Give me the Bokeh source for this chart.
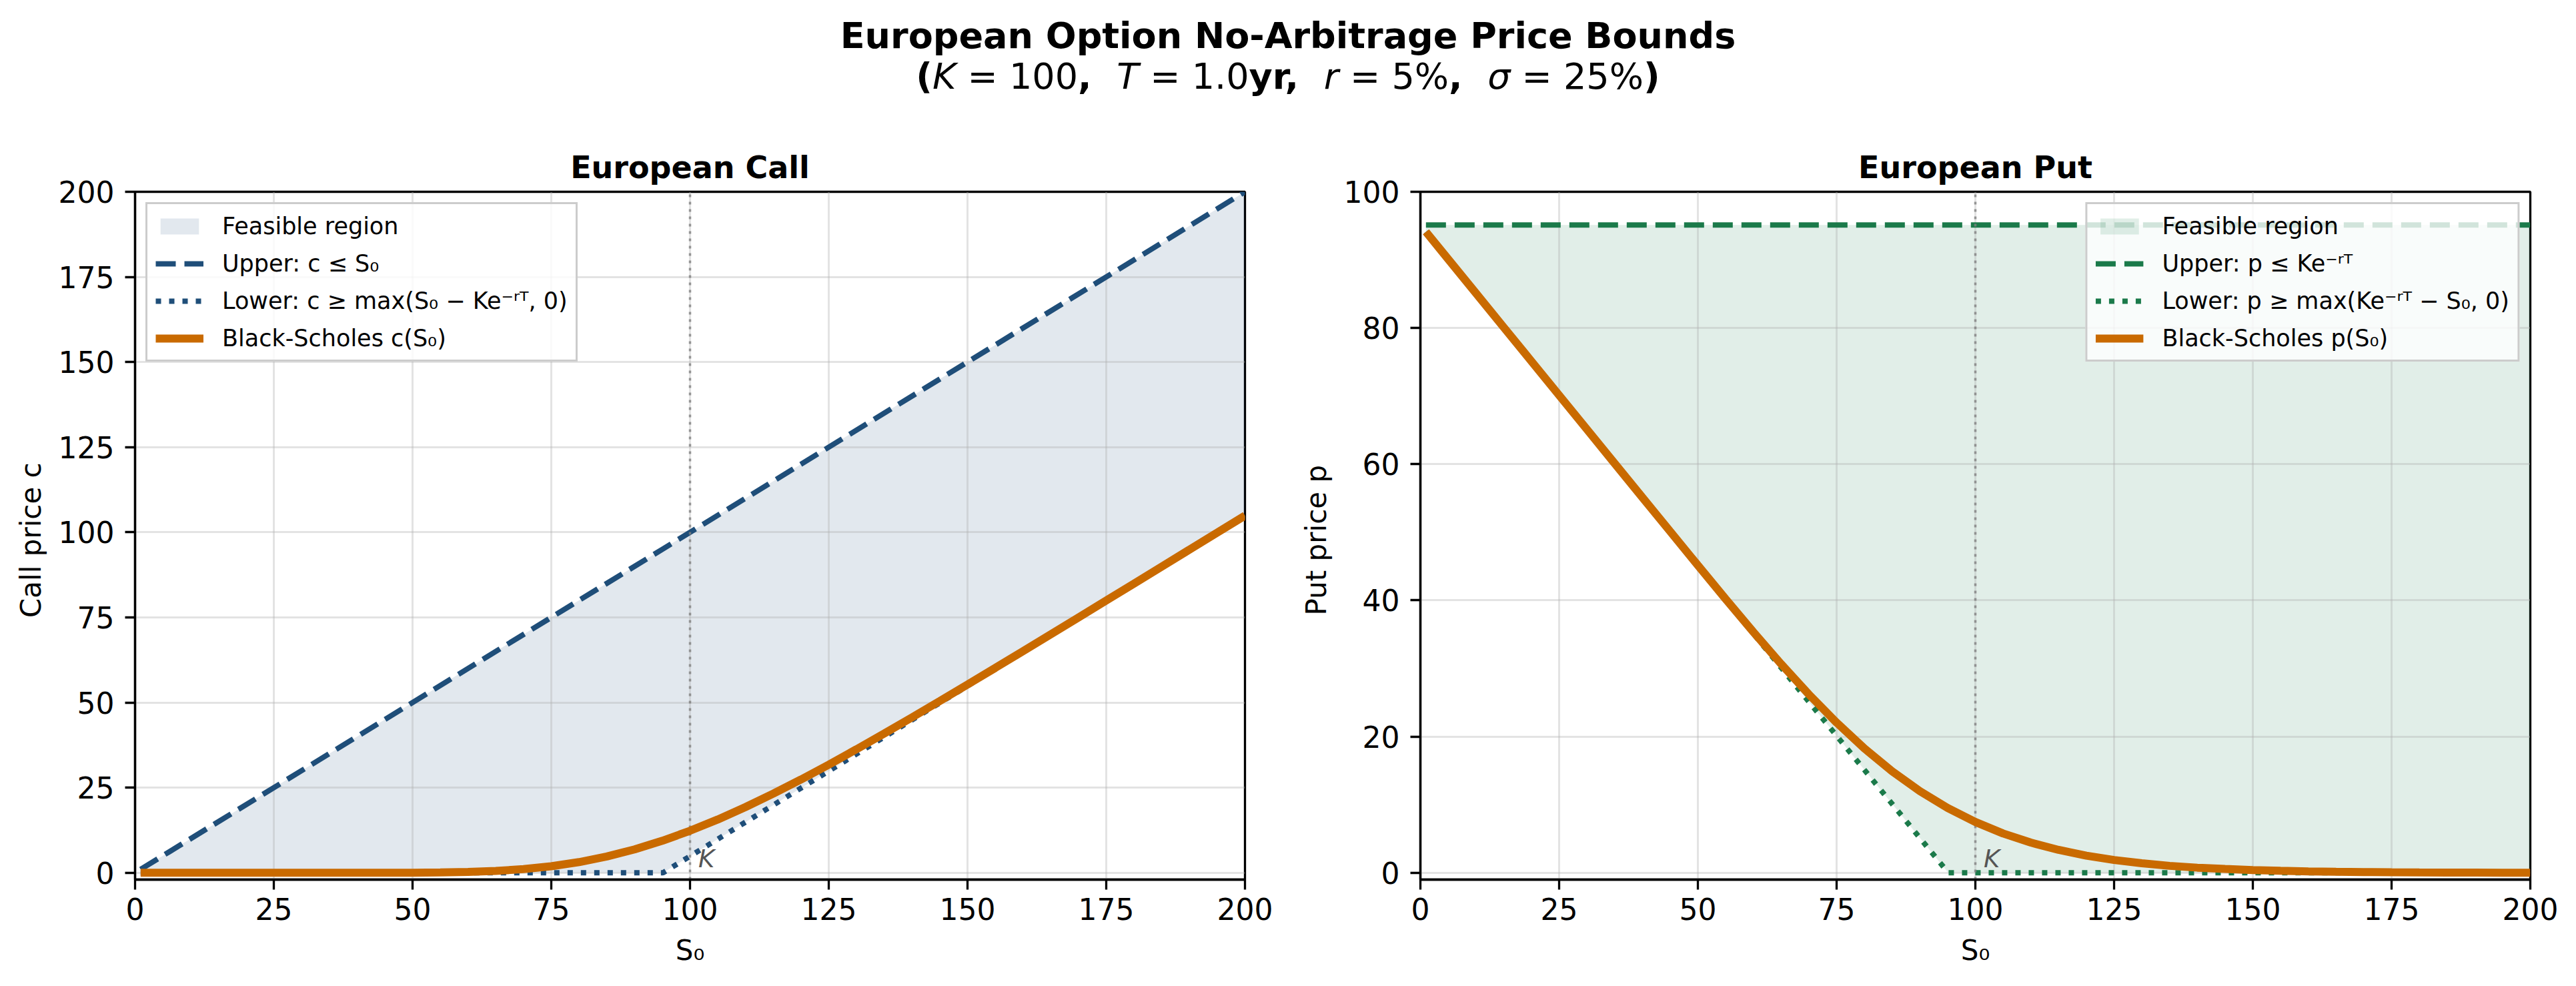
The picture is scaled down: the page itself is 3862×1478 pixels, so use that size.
from bokeh.plotting import figure
from bokeh.models import Range1d, FixedTicker, Div, Label
from bokeh.layouts import column, row
from bokeh.embed import file_html
from bokeh.resources import INLINE

# ---------------- data ----------------
K = 100
K_DISC = 95.12  # K e^{-rT}

s_grid = [1, 5, 10, 15, 20, 25, 30, 35, 40, 45, 50, 55, 60, 65, 70, 75, 80, 85, 90, 95,
          100, 105, 110, 115, 120, 125, 130, 135, 140, 145, 150, 155, 160, 165, 170,
          175, 180, 185, 190, 195, 200]
call_bs = [0.0, 0.0, 0.0, 0.0, 0.0, 0.0, 0.0, 0.0, 0.001, 0.006, 0.03, 0.09, 0.24, 0.54,
           1.08, 1.93, 3.14, 4.79, 6.87, 9.40, 12.34, 15.65, 19.31, 23.24, 27.40, 31.76,
           36.28, 40.90, 45.63, 50.44, 55.28, 60.16, 65.08, 70.03, 74.99, 79.95, 84.93,
           89.92, 94.91, 99.89, 104.89]
put_bs = [94.12, 90.12, 85.12, 80.12, 75.12, 70.12, 65.12, 60.12, 55.12, 50.13, 45.15,
          40.21, 35.36, 30.66, 26.20, 22.05, 18.27, 14.91, 11.99, 9.52, 7.46, 5.77, 4.43,
          3.36, 2.52, 1.88, 1.40, 1.02, 0.75, 0.56, 0.40, 0.29, 0.20, 0.15, 0.11, 0.07,
          0.05, 0.04, 0.03, 0.01, 0.01]

bound_s = [1, K_DISC, 200]
call_upper = [1, K_DISC, 200]
call_lower = [0, 0, 104.88]
put_upper = [K_DISC, K_DISC, K_DISC]
put_lower = [94.12, 0, 0]

x_ticks = [0, 25, 50, 75, 100, 125, 150, 175, 200]
call_yticks = [0, 25, 50, 75, 100, 125, 150, 175, 200]
put_yticks = [0, 20, 40, 60, 80, 100]

# ---------------- styles ----------------
FONT = "DejaVu Sans"
NAVY = "#1f4e79"
GREEN = "#1b7a4a"
ORANGE = "#c96a00"
FRAME_W, FRAME_H = 1664, 1031


def make_fig(title, ylabel, yr, yticks, border_left, border_right):
    p = figure(frame_width=FRAME_W, frame_height=FRAME_H,
               x_range=Range1d(0, 200), y_range=Range1d(*yr),
               output_backend="svg", toolbar_location=None,
               min_border_left=border_left, min_border_right=border_right,
               min_border_top=86, min_border_bottom=140,
               background_fill_color="white", border_fill_color="white")
    p.title.text = title
    p.title.text_font = FONT
    p.title.text_font_size = "46px"
    p.title.text_font_style = "bold"
    p.title.text_color = "black"
    p.title.align = "center"
    p.title.standoff = 19
    p.outline_line_color = "black"
    p.outline_line_width = 3.3
    p.outline_line_alpha = 1.0
    p.xaxis.ticker = FixedTicker(ticks=x_ticks)
    p.yaxis.ticker = FixedTicker(ticks=yticks)
    p.xaxis.axis_label = "S₀"
    p.yaxis.axis_label = ylabel
    for ax in (p.xaxis[0], p.yaxis[0]):
        ax.axis_label_text_font = FONT
        ax.axis_label_text_font_size = "42px"
        ax.axis_label_text_font_style = "normal"
        ax.axis_label_text_color = "black"
        ax.major_label_text_font = FONT
        ax.major_label_text_font_size = "44px"
        ax.major_label_text_color = "black"
        ax.axis_line_color = "black"
        ax.axis_line_width = 3.3
        ax.major_tick_line_color = "black"
        ax.major_tick_line_width = 3.3
        ax.major_tick_out = 15
        ax.major_tick_in = 0
        ax.minor_tick_line_color = None
    p.xaxis.major_label_standoff = 12
    p.xaxis.axis_label_standoff = 18
    p.yaxis.major_label_standoff = 16
    p.yaxis.axis_label_standoff = 14
    for g in (p.xgrid[0], p.ygrid[0]):
        g.grid_line_color = "#b0b0b0"
        g.grid_line_alpha = 0.35
        g.grid_line_width = 3
    p.xgrid.ticker = FixedTicker(ticks=x_ticks)
    p.ygrid.ticker = FixedTicker(ticks=yticks)
    return p


def style_legend(p, loc):
    lg = p.legend[0]
    lg.location = loc
    lg.margin = 16
    lg.padding = 12
    lg.spacing = 15
    lg.label_text_font = FONT
    lg.label_text_font_size = "35px"
    lg.label_text_color = "black"
    lg.label_height = 41
    lg.glyph_height = 30
    lg.glyph_width = 72
    lg.label_standoff = 28
    lg.background_fill_color = "white"
    lg.background_fill_alpha = 0.8
    lg.border_line_color = "#cccccc"
    lg.border_line_width = 3
    lg.border_line_alpha = 1.0


# ---------------- call ----------------
pc = make_fig("European Call", "Call price  c", (-2, 200), call_yticks, 202, 73)
r = pc.varea(x=bound_s, y1=call_lower, y2=call_upper, fill_color=NAVY, fill_alpha=0.13,
             legend_label="Feasible region")
r.level = "image"
pc.line(x=bound_s, y=call_upper, line_color=NAVY, line_width=8, line_dash="30 13",
        legend_label="Upper: c ≤ S₀")
pc.line(x=bound_s, y=call_lower, line_color=NAVY, line_width=8, line_dash="8 12",
        legend_label="Lower: c ≥ max(S₀ − Ke⁻ʳᵀ, 0)")
pc.line(x=[K, K], y=[-2, 200], line_color="#808080", line_alpha=0.8, line_width=3.5,
        line_dash="4 7")
pc.line(x=s_grid, y=call_bs, line_color=ORANGE, line_width=12,
        legend_label="Black-Scholes c(S₀)")
pc.add_layout(Label(x=101.5, y=4, text="K", text_font=FONT, text_font_size="37px",
                    text_font_style="italic", text_color="#555555",
                    text_baseline="alphabetic"))
style_legend(pc, "top_left")

# ---------------- put ----------------
pp = make_fig("European Put", "Put price  p", (-1, 100), put_yticks, 190, 50)
r = pp.varea(x=bound_s, y1=put_lower, y2=put_upper, fill_color=GREEN, fill_alpha=0.13,
             legend_label="Feasible region")
r.level = "image"
pp.line(x=bound_s, y=put_upper, line_color=GREEN, line_width=8, line_dash="30 13",
        legend_label="Upper: p ≤ Ke⁻ʳᵀ")
pp.line(x=bound_s, y=put_lower, line_color=GREEN, line_width=8, line_dash="8 12",
        legend_label="Lower: p ≥ max(Ke⁻ʳᵀ − S₀, 0)")
pp.line(x=[K, K], y=[-1, 100], line_color="#808080", line_alpha=0.8, line_width=3.5,
        line_dash="4 7")
pp.line(x=s_grid, y=put_bs, line_color=ORANGE, line_width=12,
        legend_label="Black-Scholes p(S₀)")
pp.add_layout(Label(x=101.5, y=2, text="K", text_font=FONT, text_font_size="37px",
                    text_font_style="italic", text_color="#555555",
                    text_baseline="alphabetic"))
style_legend(pp, "top_right")

# ---------------- suptitle ----------------
title_html = (
    '<div style="font-family:\'DejaVu Sans\'; font-size:54px; line-height:61px; '
    'text-align:center; padding-top:23px; color:black; width:3862px;">'
    '<b>European Option No-Arbitrage Price Bounds</b><br>'
    '<b>(</b><i>K</i> = 100<b>,&nbsp; </b><i>T</i> = 1.0<b>yr,&nbsp; </b>'
    '<i>r</i> = 5%<b>,&nbsp; </b><i>σ</i> = 25%<b>)</b>'
    '</div>'
)
sup = Div(text=title_html, width=3862, height=201, margin=(0, 0, 0, 0))

layout = column(sup, row(pc, pp, spacing=0), spacing=0)

with open("out.html", "w") as f:
    f.write(file_html(layout, INLINE))
